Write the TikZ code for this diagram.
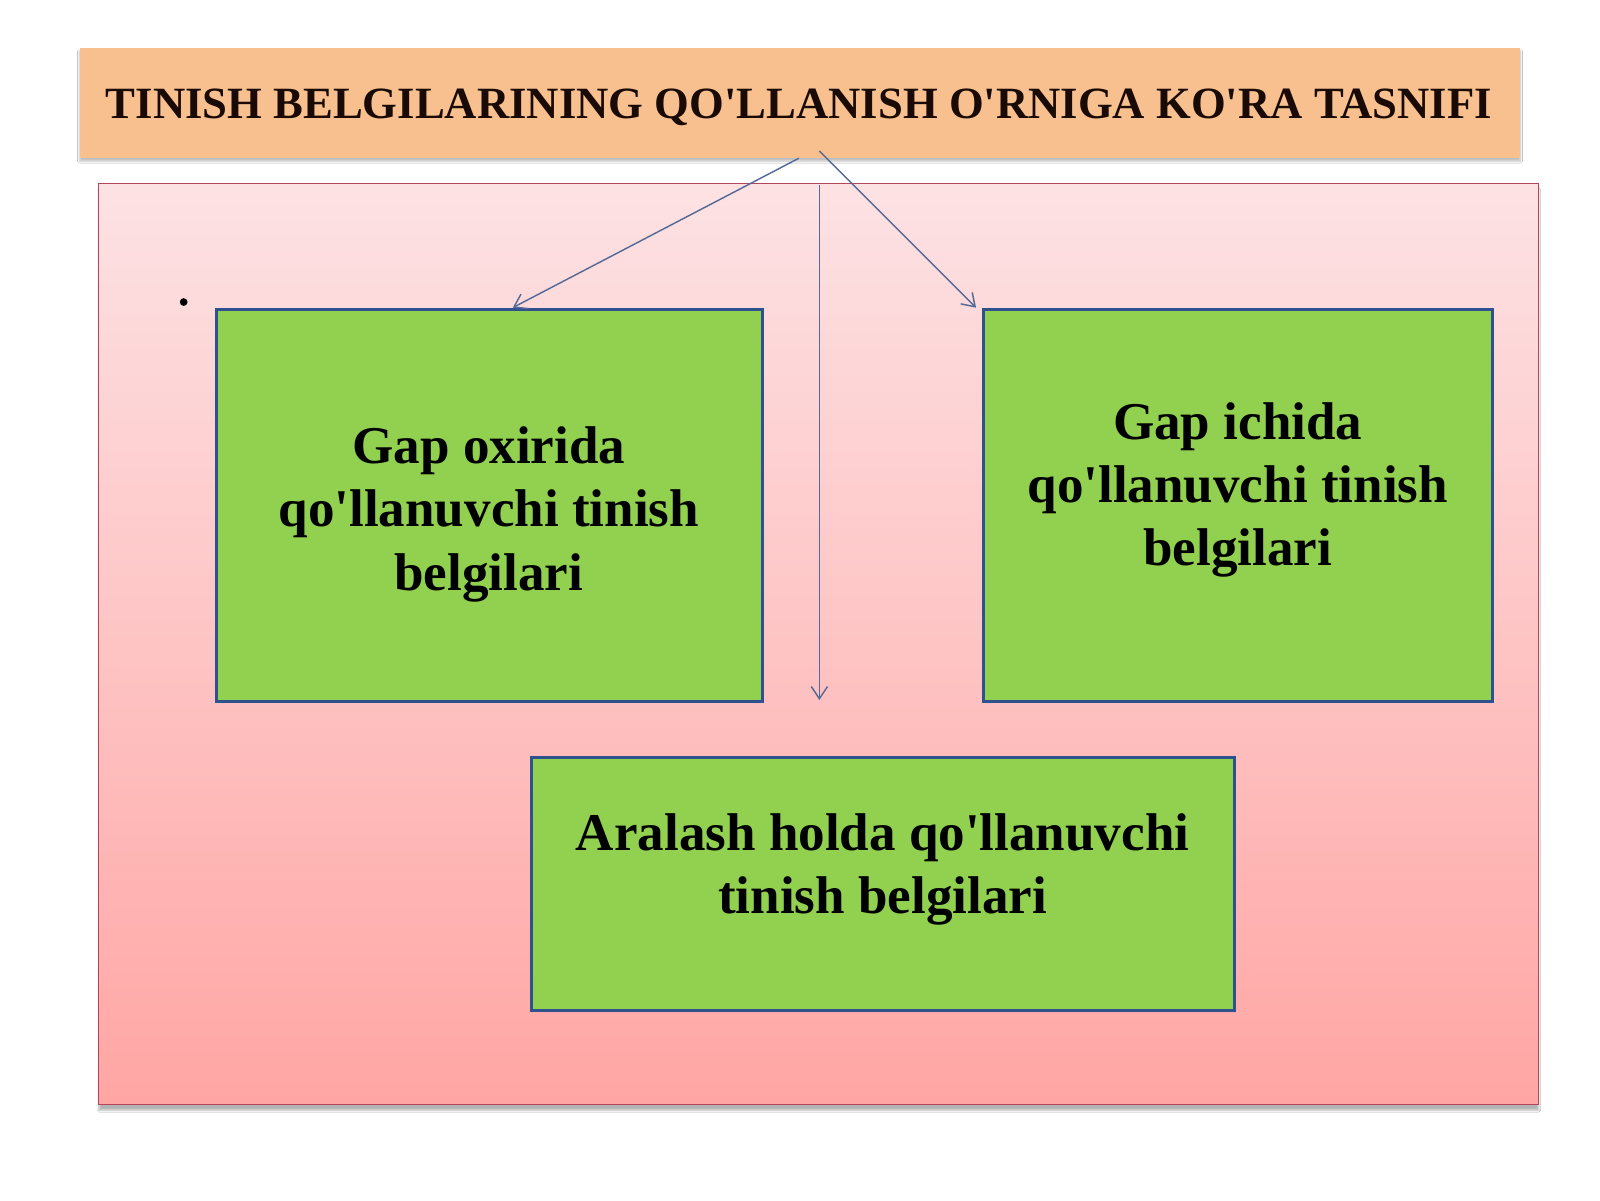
\documentclass[tikz,border=0pt]{standalone}
\usepackage{fontspec}
\setmainfont{Liberation Serif}[Ligatures=TeXOff]
\usetikzlibrary{arrows.meta,shadows.blur}
\definecolor{peach}{RGB}{247,192,142}
\definecolor{pinktop}{RGB}{253,226,228}
\definecolor{pinkbot}{RGB}{255,166,164}
\definecolor{pinkedge}{RGB}{180,70,90}
\definecolor{leaf}{RGB}{146,208,80}
\definecolor{boxblue}{RGB}{47,82,143}
\definecolor{arrowc}{RGB}{85,105,150}
\definecolor{titleink}{RGB}{25,10,5}
\tikzset{
  greenbox/.style={draw=boxblue, line width=3pt, fill=leaf, rectangle, inner sep=0pt},
  boxtext/.style={font=\fontsize{52}{62}\selectfont\bfseries, align=center, inner sep=0pt, text=black},
  link/.style={draw=arrowc, line width=1.4pt, -{Straight Barb[length=12pt,width=16pt,line width=1.4pt]}},
}
\begin{document}
\begin{tikzpicture}[x=1pt,y=-1pt]
\useasboundingbox (0,0) rectangle (1568,1176);
\fill[white] (0,0) rectangle (1568,1176);
% title
\node[rectangle, fill=peach, minimum width=1412pt, minimum height=108pt, inner sep=0pt,
      blur shadow={shadow xshift=0pt, shadow yshift=-3pt, shadow blur steps=6, shadow opacity=25}]
  (title) at (784,101) {};
\node[font=\fontsize{43.8}{50}\selectfont\bfseries, inner sep=0pt, text=titleink] (titletext) at (783,105)
  {TINISH BELGILARINING QO'LLANISH O'RNIGA KO'RA TASNIFI};
% pink panel
\path[top color=pinktop, bottom color=pinkbot, draw=pinkedge, line width=1pt,
      blur shadow={shadow xshift=0pt, shadow yshift=-6pt, shadow blur steps=8, shadow opacity=30}]
  (97,180) rectangle (1508,1082);
\node[rectangle, minimum width=1411pt, minimum height=902pt, inner sep=0pt] (panel) at (802.5,631) {};
% bullet
\fill[black] (180,296) circle (3.8pt);
% boxes
\node[greenbox, minimum width=535pt, minimum height=384pt] (left) at (479.5,495) {};
\node[greenbox, minimum width=499pt, minimum height=384pt] (right) at (1213.5,495) {};
\node[greenbox, minimum width=689pt, minimum height=248pt] (bottom) at (865.5,866) {};
\node[boxtext] (lefttext) at (479,504) {Gap oxirida\\qo'llanuvchi tinish\\belgilari};
\node[boxtext] (righttext) at (1213,480) {Gap ichida\\qo'llanuvchi tinish\\belgilari};
\node[boxtext] (bottomtext) at (865,852) {Aralash holda qo'llanuvchi\\tinish belgilari};
% connectors
\coordinate (s1) at (783,155);
\coordinate (s2) at (803,148);
\coordinate (s3) at (803,181);
\coordinate (e3) at (803,686);
\draw[link] (s1) -- ([xshift=23pt]left.north);
\draw[link] (s2) -- ([xshift=-6pt]right.north west);
\draw[link] (s3) -- (e3);
\end{tikzpicture}
\end{document}
